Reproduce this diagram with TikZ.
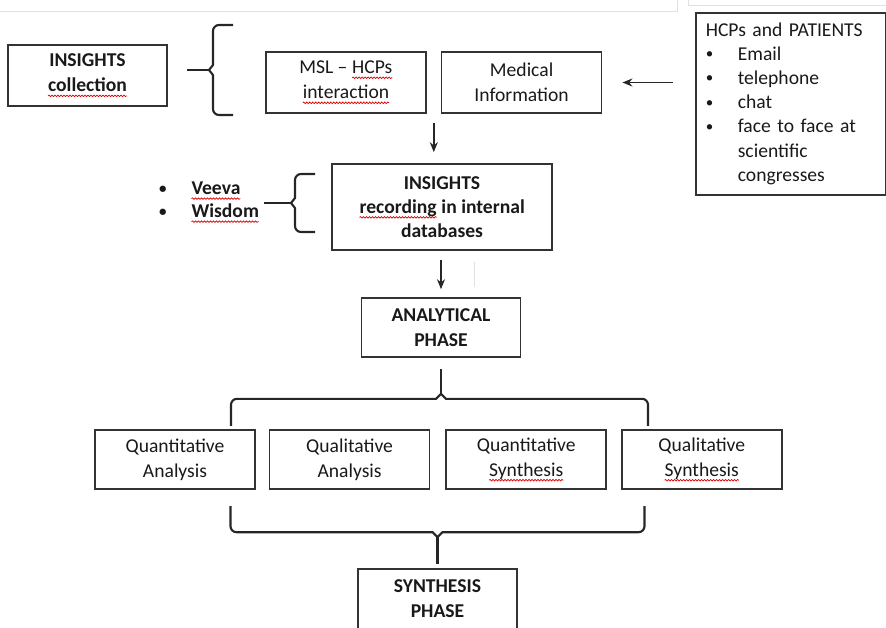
\documentclass[tikz,border=0pt]{standalone}
\usepackage{fontspec}
\setmainfont{Carlito}
\usetikzlibrary{arrows.meta,calc,positioning,decorations.pathmorphing}

\newcommand\spellchk[1]{\tikz[baseline=(spw.base), x=1pt, y=1pt]{%
  \node[inner sep=0pt, outer sep=0pt, draw=none, minimum width=0pt, minimum height=0pt,
    text width=, align=none, anchor=base west, at={(0,0)}] (spw) {#1};
  \draw[red!85!black, line width=0.7pt, decorate, decoration={snake, amplitude=0.8pt, segment length=3pt}]
    ([yshift=-4pt]spw.base west) -- ([yshift=-4pt]spw.base east);}}
\newcommand\diagfont{\fontsize{19.6}{25}\selectfont}
\newcommand\dotitem{\raisebox{1.5pt}{\fontsize{15}{15}\selectfont\textbullet}}

\tikzset{
  box/.style={draw=black!80, line width=1.6pt, align=center, inner sep=0pt,
    minimum width=160pt, minimum height=60pt, text=black!90, font=\diagfont},
  boldbox/.style={box, font=\diagfont\bfseries},
  arr/.style={-{Stealth[length=10pt,width=8pt]}, line width=1.5pt, black!85},
  brc/.style={line width=2.1pt, black!85},
  scan/.style={black!12, line width=0.8pt},
}

\begin{document}
\begin{tikzpicture}[x=1pt, y=-1pt]
    \clip (0,0) rectangle (886,627);

    % leftovers of the screenshot
    \draw[scan] (0,11) -- (677,11) -- (677,0);
    \draw[scan] (890,5) -- (688,5) -- (688,0);
    \draw[scan] (474,262) -- (474,287);

    % collection
    \node[boldbox, minimum width=159pt, minimum height=61pt] (collect) at (87.5,75.5) {INSIGHTS\\\spellchk{collection}};
    \node[box, minimum height=61pt] (msl) at (346,82.5) {MSL \textendash\ \spellchk{HCPs}\\\spellchk{interaction}};
    \node[box, minimum height=61pt, right=14pt of msl] (medinfo) {Medical\\Information};

    \node[box, anchor=north west, minimum width=190pt, minimum height=182pt, text width=170pt,
      align=left, inner xsep=10pt, font=\fontsize{19.6}{24.2}\selectfont] (hcps) at (695,12) {%
      \begin{tabular}{@{}p{32pt}@{}l@{}}
        \multicolumn{2}{@{}l@{}}{HCPs and PATIENTS}\\
        \dotitem & Email\\
        \dotitem & telephone\\
        \dotitem & chat\\
        \dotitem & face to face at\\
                 & scientific\\
                 & congresses
      \end{tabular}};

    \draw[arr, shorten <=22pt, shorten >=20pt] (hcps.west |- medinfo.east) -- (medinfo.east);

    \coordinate (cb1) at (209,70);
    \draw[brc, shorten <=19pt] (collect.east |- cb1) -- (cb1);
    \draw[brc] ($(cb1)+(24,-45)$) [rounded corners=6pt] -- ($(cb1)+(4,-45)$) [sharp corners]
      -- ($(cb1)+(4,-5)$) -- (cb1) -- ($(cb1)+(4,5)$) [rounded corners=6pt]
      -- ($(cb1)+(4,45)$) [sharp corners] -- ($(cb1)+(24,45)$);

    % recording
    \coordinate (gap) at ($(msl.south east)!.5!(medinfo.south west)$);
    \node[boldbox, minimum width=220pt, minimum height=86pt, font=\fontsize{19.6}{24}\selectfont\bfseries] (rec) at (442,207)
      {INSIGHTS\\\spellchk{recording} in internal\\databases};
    \draw[arr, shorten <=9pt, shorten >=11pt] (gap) -- (gap |- rec.north);

    \node[anchor=west, inner sep=0pt, text=black!90, font=\fontsize{19.6}{23}\selectfont\bfseries] (tools) at (159,201.5) {%
      \begin{tabular}{@{}p{32pt}@{}l@{}}
        \dotitem & \spellchk{Veeva}\\
        \dotitem & \spellchk{Wisdom}
      \end{tabular}};

    \coordinate (cb2) at (291,203);
    \draw[brc, shorten <=5pt] (tools.east |- cb2) -- (cb2);
    \draw[brc] ($(cb2)+(24,-29)$) [rounded corners=6pt] -- ($(cb2)+(4,-29)$) [sharp corners]
      -- ($(cb2)+(4,-5)$) -- (cb2) -- ($(cb2)+(4,5)$) [rounded corners=6pt]
      -- ($(cb2)+(4,29)$) [sharp corners] -- ($(cb2)+(24,29)$);

    % analysis
    \node[boldbox, minimum width=159pt, minimum height=59pt] (ana) at (441,327.5) {ANALYTICAL\\PHASE};
    \draw[arr, shorten <=9pt, shorten >=8pt] (ana.north |- rec.south) -- (ana.north);

    \node[box, minimum height=59pt] (q1) at (175,459.5) {Quantitative\\Analysis};
    \node[box, minimum height=59pt, right=13pt of q1] (q2) {Qualitative\\Analysis};
    \node[box, minimum height=59pt, right=15pt of q2] (q3) {Quantitative\\\spellchk{Synthesis}};
    \node[box, minimum height=59pt, right=14pt of q3] (q4) {Qualitative\\\spellchk{Synthesis}};

    \coordinate (tb) at ($(ana.south)+(0,41)$);
    \draw[brc, shorten <=11pt] (ana.south) -- ($(tb)+(0,-5)$);
    \draw[brc] ($(tb)+(-210,27)$) [rounded corners=6pt] -- ($(tb)+(-210,0)$) [sharp corners]
      -- ($(tb)+(-5,0)$) -- ($(tb)+(0,-5)$) -- ($(tb)+(5,0)$) [rounded corners=6pt]
      -- ($(tb)+(207,0)$) [sharp corners] -- ($(tb)+(207,27)$);

    % synthesis
    \node[boldbox, minimum width=159pt, minimum height=60pt] (synth) at (437.5,599) {SYNTHESIS\\PHASE};

    \coordinate (bb) at ($(synth.north)+(0,-36)$);
    \draw[brc] ($(bb)+(-207,-26)$) [rounded corners=6pt] -- ($(bb)+(-207,0)$) [sharp corners]
      -- ($(bb)+(-5,0)$) -- ($(bb)+(0,5)$) -- ($(bb)+(5,0)$) [rounded corners=6pt]
      -- ($(bb)+(207,0)$) [sharp corners] -- ($(bb)+(207,-26)$);
    \draw[brc, shorten >=4pt] ($(bb)+(0,5)$) -- (synth.north);
\end{tikzpicture}
\end{document}
